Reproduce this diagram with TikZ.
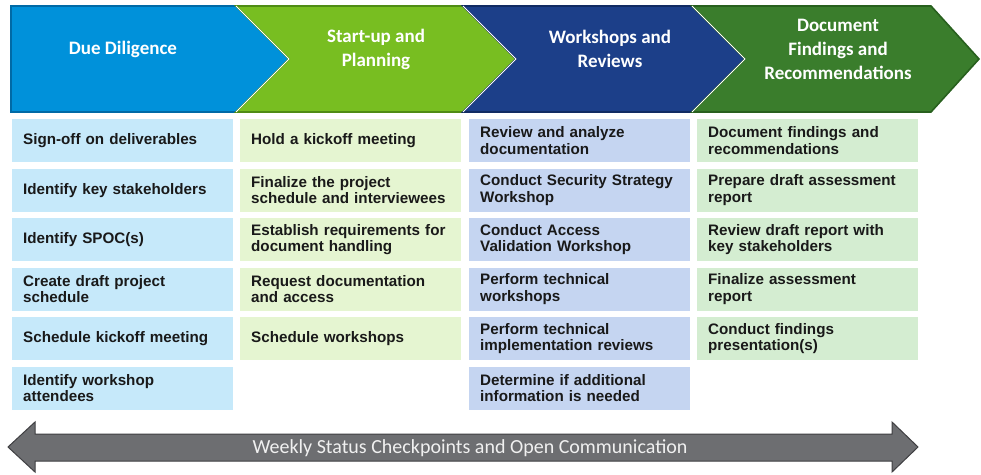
\documentclass[tikz,border=0pt]{standalone}
\usepackage{fontspec}
\usepackage{xcolor}
\usepackage{tikz}
\usetikzlibrary{calc,positioning}
\newfontfamily\itemfont{Liberation Sans}
\newfontfamily\headfont{Carlito}
\definecolor{ddc}{HTML}{0091DA}
\definecolor{ddl}{HTML}{006AA6}
\definecolor{spc}{HTML}{78BE21}
\definecolor{spl}{HTML}{4F8C14}
\definecolor{wrc}{HTML}{1C3F89}
\definecolor{wrl}{HTML}{112B63}
\definecolor{dfc}{HTML}{3A7D2C}
\definecolor{dfl}{HTML}{28601E}
\definecolor{ddbg}{HTML}{C6E9FA}
\definecolor{spbg}{HTML}{E5F5D1}
\definecolor{wrbg}{HTML}{C5D5F1}
\definecolor{dfbg}{HTML}{D4EDD1}
\definecolor{arrc}{HTML}{6D6E71}
\definecolor{arrl}{HTML}{3F3F42}
\tikzset{
  chev/.style={line width=1.6pt,line join=miter},
  head/.style={text=white,align=center,font=\headfont\bfseries\fontsize{19}{24}\selectfont},
  item/.style={anchor=north west,minimum height=43pt,text width=199pt,inner xsep=11pt,inner ysep=0pt,align=left,font=\itemfont\bfseries\fontsize{15.2}{16.7}\selectfont,text=black!90}
}
\begin{document}
\begin{tikzpicture}[x=1pt,y=-1pt]
\useasboundingbox (0,0) rectangle (981,474);
\filldraw[ddc,draw=ddl,chev] (11,6)--(236,6)--(289,59)--(236,112)--(11,112)--cycle;
\filldraw[spc,draw=spl,chev] (236,6)--(463,6)--(516,59)--(463,112)--(236,112)--(289,59)--cycle;
\filldraw[wrc,draw=wrl,chev] (463,6)--(692,6)--(745,59)--(692,112)--(463,112)--(516,59)--cycle;
\filldraw[dfc,draw=dfl,chev] (692,6)--(931,6)--(979,59)--(931,112)--(692,112)--(745,59)--cycle;
\foreach \a/\b in {236/289,463/516,692/745}{\draw[white,line width=0.8pt] (\a,6)--(\b,59)--(\a,112);}
\node[head] (hdDD) at (123,49) {Due Diligence};
\node[head] (hdSP) at (376,49) {Start-up and\\Planning};
\node[head] (hdWR) at (610,49) {Workshops and\\Reviews};
\node[head] (hdDF) at (838,49) {Document\\Findings and\\Recommendations};
\foreach \t [count=\i] in {{Sign-off on deliverables},{Identify key stakeholders},{Identify SPOC(s)},{Create draft project\\schedule},{Schedule kickoff meeting},{Identify workshop\\attendees}}
  \node[item,fill=ddbg] (dd\i) at (12,{119+49.5*(\i-1)}) {\t};
\foreach \t [count=\i] in {{Hold a kickoff meeting},{Finalize the project\\schedule and interviewees},{Establish requirements for\\document handling},{Request documentation\\and access},{Schedule workshops}}
  \node[item,fill=spbg] (sp\i) at (240,{119+49.5*(\i-1)}) {\t};
\foreach \t [count=\i] in {{Review and analyze\\documentation},{Conduct Security Strategy\\Workshop},{Conduct Access\\Validation Workshop},{Perform technical\\workshops},{Perform technical\\implementation reviews},{Determine if additional\\information is needed}}
  \node[item,fill=wrbg] (wr\i) at (469,{119+49.5*(\i-1)}) {\t};
\foreach \t [count=\i] in {{Document findings and\\recommendations},{Prepare draft assessment\\report},{Review draft report with\\key stakeholders},{Finalize assessment\\report},{Conduct findings\\presentation(s)}}
  \node[item,fill=dfbg] (df\i) at (697,{119+49.5*(\i-1)}) {\t};
\draw[fill=arrc,draw=arrl,line width=1pt] (8,447)--(35,422)--(35,434)--(892,434)--(892,422)--(918,447)--(892,472)--(892,461)--(35,461)--(35,472)--cycle;
\node[text=white!94!black,font=\headfont\fontsize{20}{22}\selectfont] (status) at (470,448) {Weekly Status Checkpoints and Open Communication};
\end{tikzpicture}
\end{document}
